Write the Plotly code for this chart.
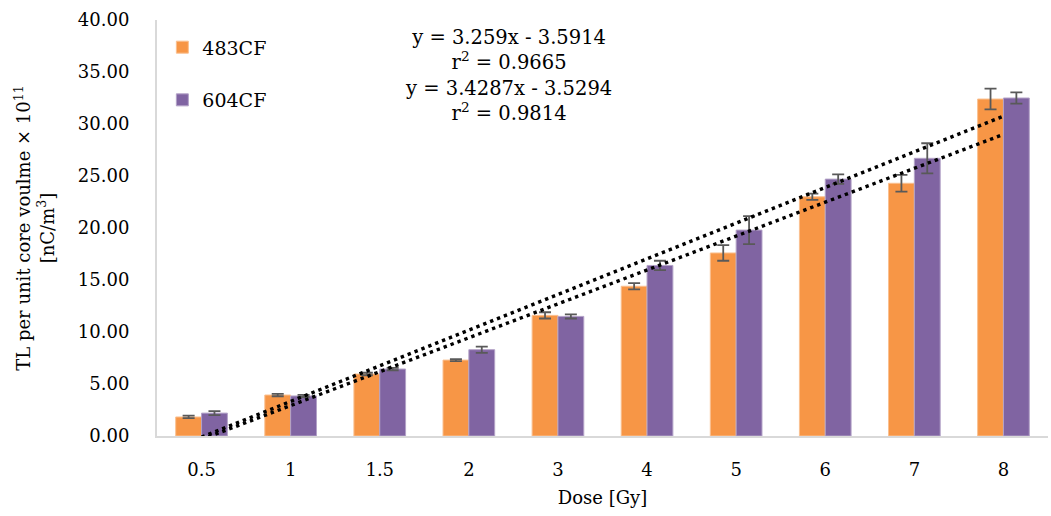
import plotly.graph_objects as go

doses = ["0.5", "1", "1.5", "2", "3", "4", "5", "6", "7", "8"]
tl_483cf = [1.83, 3.94, 5.96, 7.30, 11.60, 14.40, 17.60, 23.00, 24.30, 32.40]
err_483cf = [0.12, 0.12, 0.12, 0.10, 0.30, 0.30, 0.75, 0.30, 0.80, 1.00]
tl_604cf = [2.20, 3.85, 6.44, 8.30, 11.50, 16.40, 19.80, 24.70, 26.70, 32.50]
err_604cf = [0.20, 0.10, 0.12, 0.30, 0.20, 0.45, 1.35, 0.45, 1.45, 0.55]

# linear trendline coefficients (slope, intercept) against category index 1..10
fit_483cf = (3.259, -3.5914)
fit_604cf = (3.4287, -3.5294)
r2_483cf = 0.9665
r2_604cf = 0.9814

ORANGE = "#F79646"
PURPLE = "#8064A2"
ERR = "#595959"
FONT = "DejaVu Serif"

idx = list(range(1, len(doses) + 1))

fig = go.Figure()
fig.add_trace(go.Bar(
    x=idx, y=tl_483cf, name="483CF", legendgroup="a",
    marker=dict(color=ORANGE, line=dict(color="#FAC090", width=1)),
    error_y=dict(type="data", array=err_483cf, color=ERR, thickness=1.8, width=6),
))
fig.add_trace(go.Bar(
    x=idx, y=tl_604cf, name="604CF", legendgroup="b",
    marker=dict(color=PURPLE, line=dict(color="#B3A2C7", width=1)),
    error_y=dict(type="data", array=err_604cf, color=ERR, thickness=1.8, width=6),
))

for slope, icpt in (fit_483cf, fit_604cf):
    fig.add_trace(go.Scatter(
        x=[idx[0], idx[-1]],
        y=[slope * idx[0] + icpt, slope * idx[-1] + icpt],
        mode="lines", showlegend=False, hoverinfo="skip",
        line=dict(color="black", width=3.4, dash="3.4px,4px"),
    ))

eq_text = (
    f"y = {fit_483cf[0]}x - {abs(fit_483cf[1])}<br>"
    f"r<sup>2</sup> = {r2_483cf}<br>"
    f"y = {fit_604cf[0]}x - {abs(fit_604cf[1])}<br>"
    f"r<sup>2</sup> = {r2_604cf}"
)
fig.add_annotation(
    text=eq_text, xref="paper", yref="paper", x=0.395, y=0.99,
    xanchor="center", yanchor="top", showarrow=False, align="center",
    font=dict(family=FONT, size=19.5, color="black"),
)

fig.update_layout(
    width=1051, height=516,
    margin=dict(l=157, r=3, t=20, b=80),
    paper_bgcolor="white", plot_bgcolor="white",
    font=dict(family=FONT, size=18, color="black"),
    barmode="group", bargap=0.42, bargroupgap=0.0,
    showlegend=True,
    legend=dict(
        x=0.006, y=0.98, xanchor="left", yanchor="top",
        traceorder="grouped", tracegroupgap=25,
        bgcolor="rgba(0,0,0,0)", font=dict(family=FONT, size=19),
        itemwidth=30,
    ),
    xaxis=dict(
        range=[0.5, 10.5], tickmode="array", tickvals=idx, ticktext=doses,
        showline=True, linecolor="#D9D9D9", linewidth=2, showgrid=False,
        ticks="", ticklabelstandoff=16, zeroline=False,
        title=dict(text="Dose [Gy]", standoff=13, font=dict(family=FONT, size=18)),
    ),
    yaxis=dict(
        range=[0, 40], dtick=5, tickformat=".2f",
        showline=True, linecolor="#D9D9D9", linewidth=2, showgrid=False,
        ticks="", ticklabelstandoff=22, zeroline=False,
        title=dict(
            text="TL per unit core voulme × 10<sup>11</sup><br>[nC/m<sup>3</sup>]",
            standoff=19, font=dict(family=FONT, size=18),
        ),
    ),
)

fig.write_html("out.html")
